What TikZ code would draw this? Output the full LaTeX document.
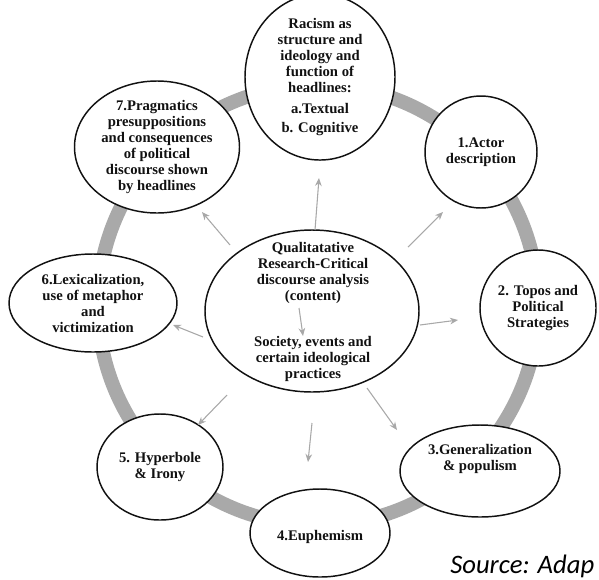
\documentclass[tikz,border=0pt]{standalone}
\usepackage{fontspec}
\setmainfont{Liberation Serif}
\newfontfamily\srcfont{Carlito}
\usetikzlibrary{shapes.geometric, arrows.meta}
\definecolor{ink}{HTML}{111111}
\definecolor{ringc}{HTML}{A9A9A9}
\definecolor{arrc}{HTML}{A8A8A8}
\newcommand{\NodeF}{\fontsize{11}{12}\selectfont\bfseries}
\newcommand{\stage}[6]{%
  \node[stage, minimum width=#4*0.75pt, minimum height=#5*0.75pt] (#1) at (#2,#3) {#6};
}

\begin{document}
\begin{tikzpicture}[x=0.75pt,y=-0.75pt,
  stage/.style={ellipse, draw=ink, line width=1.1pt, fill=white, inner sep=0pt,
    align=center, font=\NodeF, text=ink},
  flow/.style={arrc, line width=0.8pt, -{Stealth[length=6pt,width=5pt]}},
  ring/.style={ringc, line width=10.5pt}]
\useasboundingbox (0,0) rectangle (599,579);
\coordinate (hub) at (318,305);
\draw[ring] (hub) circle[radius=220];
\stage{racism}{320}{77}{150}{145}{Racism as\\structure and\\ideology and\\function of\\headlines:\\[4pt]a.Textual\\[2pt]b. Cognitive}
\stage{actor}{481}{152}{112}{112}{1.Actor\\description}
\stage{topos}{538}{308}{116}{116}{2. Topos and\\Political\\Strategies}
\stage{general}{480}{471}{160}{92}{3.Generalization\\\& populism\\[8pt]}
\stage{euph}{320}{533}{140}{88}{\\[2pt]4.Euphemism}
\stage{hyper}{160}{467}{126}{106}{5. Hyperbole\\\& Irony}
\stage{lexic}{93}{303}{168}{98}{6.Lexicalization,\\use of metaphor\\and\\victimization}
\stage{pragm}{157}{147}{165}{108}{7.Pragmatics\\presuppositions\\and consequences\\of political\\discourse shown\\by headlines}
\node[stage, minimum width=214*0.75pt, minimum height=162*0.75pt] (qual) at (312,311) {};
\node[align=center, font=\NodeF, text=ink] (qualtop) at (313,273)
  {Qualitatative\\Research-Critical\\discourse analysis\\(content)};
\node[align=center, font=\NodeF, text=ink] (qualbot) at (313,359)
  {Society, events and\\certain ideological\\practices};
\foreach \n/\sx/\sy/\ex/\ey in {up/315/230/319/178, upleft/230/245/202/212,
    upright/408/247/443/212, right/420/325/458/320, downright/367/388/397/430,
    down/312/423/308/462, downleft/227/395/198/425, left/203/337/173/325,
    inner/299/308/303/336} {
  \coordinate (\n-from) at (\sx,\sy);
  \coordinate (\n-to) at (\ex,\ey);
  \draw[flow] (\n-from) -- (\n-to);
}
\node[anchor=base west, font=\srcfont\itshape\fontsize{20}{24}\selectfont, text=black, inner sep=0pt]
  (source) at (450,573) {Source: Adap};
\end{tikzpicture}
\end{document}
